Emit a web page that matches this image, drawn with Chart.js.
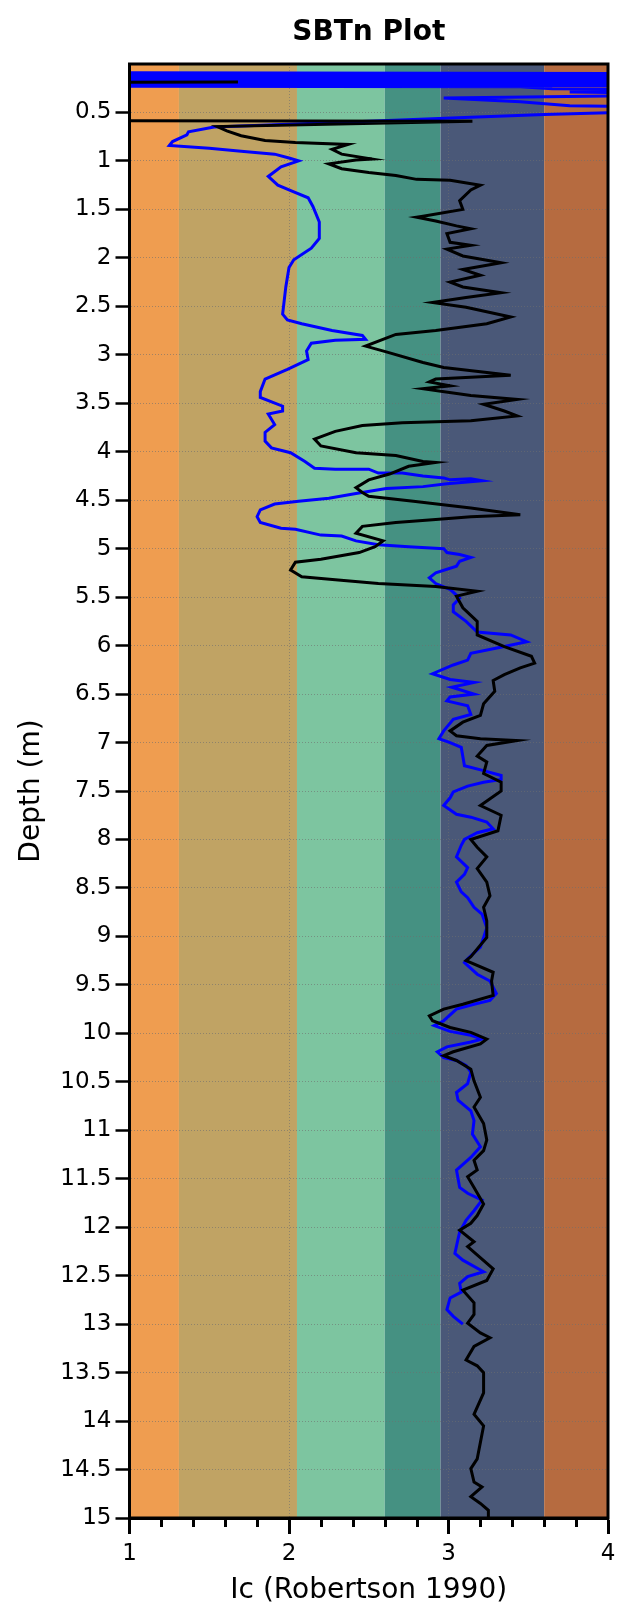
<!DOCTYPE html>
<html>
<head>
<meta charset="utf-8">
<title>SBTn Plot</title>
<script src="https://cdn.jsdelivr.net/npm/chart.js@4.4.1/dist/chart.umd.min.js"></script>
<style>
  html, body { margin: 0; padding: 0; background: #fff; }
  #wrap { width: 627px; height: 1624px; position: relative; }
</style>
</head>
<body>
<div id="wrap"><canvas id="sbtnChart"></canvas></div>
<script>
// SBTn zone limits on Ic and their fill colours
const zoneLimits = [1, 1.31, 2.05, 2.6, 2.95, 3.6, 4];
const zoneColors = ['#ef9d50', '#c0a364', '#7dc5a0', '#459182', '#4a5878', '#b66b40'];

// depth axis ticks (m) and Ic axis ticks
const depthTicks = [0.5, 1, 1.5, 2, 2.5, 3, 3.5, 4, 4.5, 5, 5.5, 6, 6.5, 7, 7.5, 8, 8.5, 9, 9.5, 10,
    10.5, 11, 11.5, 12, 12.5, 13, 13.5, 14, 14.5, 15];
const icTicks = [1, 2, 3, 4];

// black trace: depth (m) / Ic
const blackDepth = [0.185, 0.19, 0.585, 0.59, 0.645, 0.69, 0.74, 0.79, 0.81, 0.83, 0.88, 0.93, 0.98, 0.99,
    1.03, 1.08, 1.12, 1.15, 1.19, 1.2, 1.25, 1.3, 1.41, 1.5, 1.57, 1.58, 1.62, 1.67, 1.7, 1.75, 1.84, 1.87,
    1.91, 1.98, 2.05, 2.12, 2.18, 2.25, 2.3, 2.36, 2.41, 2.46, 2.51, 2.61, 2.68, 2.75, 2.79, 2.91, 2.97,
    3.08, 3.13, 3.21, 3.25, 3.28, 3.32, 3.35, 3.42, 3.46, 3.51, 3.58, 3.63, 3.68, 3.7, 3.73, 3.79, 3.87,
    3.94, 4.01, 4.04, 4.1, 4.11, 4.15, 4.23, 4.29, 4.37, 4.42, 4.46, 4.51, 4.58, 4.65, 4.67, 4.7, 4.73,
    4.77, 4.84, 4.92, 4.98, 5.04, 5.11, 5.14, 5.22, 5.29, 5.32, 5.36, 5.39, 5.44, 5.49, 5.61, 5.75, 5.89,
    6.01, 6.11, 6.18, 6.23, 6.3, 6.36, 6.47, 6.6, 6.72, 6.79, 6.88, 6.93, 6.96, 6.98, 7.03, 7.14, 7.2,
    7.32, 7.41, 7.5, 7.65, 7.75, 7.91, 8.0, 8.08, 8.18, 8.3, 8.44, 8.58, 8.7, 8.84, 9.01, 9.21, 9.25,
    9.37, 9.46, 9.61, 9.7, 9.75, 9.82, 9.87, 9.94, 9.99, 10.06, 10.11, 10.19, 10.23, 10.28, 10.37, 10.49,
    10.66, 10.76, 10.93, 11.1, 11.21, 11.31, 11.41, 11.48, 11.59, 11.76, 11.88, 11.96, 12.03, 12.15, 12.2,
    12.43, 12.55, 12.65, 12.78, 12.9, 12.99, 13.09, 13.14, 13.23, 13.37, 13.43, 13.5, 13.71, 13.93, 14.05,
    14.22, 14.39, 14.49, 14.63, 14.68, 14.78, 14.85, 14.92, 15.0];
const blackIc = [1.68, 0.5, 0.5, 3.15, 1.55, 1.61, 1.7, 1.85, 2.04, 2.37, 2.27, 2.33, 2.52, 2.42,
    2.25, 2.33, 2.5, 2.67, 2.8, 3.01, 3.2, 3.14, 3.07, 3.09, 2.84, 2.8, 2.92, 3.05, 3.14, 2.99, 3.01, 3.14,
    2.99, 3.09, 3.33, 3.09, 3.2, 3.01, 3.09, 3.33, 3.11, 2.9, 3.11, 3.39, 3.24, 2.92, 2.67, 2.48, 2.61,
    2.84, 2.97, 3.39, 2.92, 2.88, 3.01, 2.84, 3.14, 3.43, 3.22, 3.35, 3.43, 3.14, 2.71, 2.46, 2.29, 2.16,
    2.2, 2.42, 2.67, 2.84, 2.92, 2.75, 2.63, 2.5, 2.42, 2.46, 2.5, 2.78, 3.14, 3.45, 3.14, 2.92, 2.67,
    2.46, 2.42, 2.59, 2.54, 2.44, 2.2, 2.04, 2.01, 2.08, 2.29, 2.56, 2.92, 3.18, 3.05, 3.09, 3.18, 3.18,
    3.35, 3.52, 3.54, 3.45, 3.35, 3.28, 3.29, 3.22, 3.2, 3.09, 3.01, 3.05, 3.2, 3.43, 3.24, 3.18, 3.24,
    3.22, 3.33, 3.33, 3.2, 3.33, 3.31, 3.14, 3.18, 3.24, 3.18, 3.24, 3.26, 3.22, 3.24, 3.24, 3.14, 3.11,
    3.28, 3.27, 3.28, 3.09, 2.97, 2.88, 2.9, 3.01, 3.14, 3.24, 3.2, 3.03, 2.97, 3.05, 3.14, 3.16,
    3.2, 3.16, 3.22, 3.24, 3.22, 3.16, 3.18, 3.12, 3.16, 3.22, 3.18, 3.14, 3.07, 3.16, 3.12,
    3.28, 3.24, 3.09, 3.16, 3.16, 3.12, 3.2, 3.26, 3.16, 3.11, 3.18, 3.22, 3.22, 3.16, 3.22,
    3.2, 3.18, 3.14, 3.16, 3.21, 3.14, 3.2, 3.25, 3.25];

// blue trace: depth (m) / Ic
const blueDepth = [0.09, 0.1, 0.11, 0.12, 0.13, 0.14, 0.15, 0.16, 0.17, 0.18, 0.19, 0.2, 0.21, 0.22,
    0.228, 0.235, 0.255, 0.262, 0.29, 0.3, 0.32, 0.35, 0.39, 0.43, 0.45, 0.49, 0.5, 0.52, 0.55, 0.59,
    0.63, 0.65, 0.7, 0.73, 0.8, 0.84, 0.87, 0.9, 0.93, 0.97, 1.0, 1.06, 1.16, 1.25, 1.32, 1.38, 1.47,
    1.63, 1.8, 1.9, 2.02, 2.1, 2.3, 2.58, 2.64, 2.68, 2.75, 2.8, 2.84, 2.85, 2.88, 2.96, 3.05, 3.15,
    3.25, 3.38, 3.44, 3.53, 3.58, 3.61, 3.72, 3.8, 3.89, 3.96, 4.01, 4.1, 4.17, 4.18, 4.18, 4.22, 4.22,
    4.25, 4.27, 4.29, 4.28, 4.3, 4.33, 4.36, 4.38, 4.43, 4.48, 4.51, 4.54, 4.6, 4.67, 4.73, 4.79, 4.8,
    4.86, 4.87, 4.92, 4.96, 4.98, 5.0, 5.04, 5.06, 5.09, 5.13, 5.18, 5.25, 5.3, 5.36, 5.42, 5.51, 5.58,
    5.65, 5.75, 5.86, 5.89, 5.96, 6.01, 6.08, 6.15, 6.2, 6.29, 6.35, 6.38, 6.43, 6.5, 6.53, 6.57, 6.62,
    6.71, 6.76, 6.88, 6.96, 7.0, 7.05, 7.24, 7.29, 7.34, 7.38, 7.41, 7.45, 7.51, 7.57, 7.65, 7.74, 7.77,
    7.82, 7.89, 7.93, 8.0, 8.06, 8.18, 8.29, 8.36, 8.44, 8.54, 8.6, 8.7, 8.77, 8.91, 9.01, 9.11, 9.23,
    9.27, 9.39, 9.46, 9.59, 9.66, 9.7, 9.75, 9.87, 9.92, 9.98, 10.02, 10.06, 10.09, 10.14, 10.19, 10.25,
    10.28, 10.33, 10.4, 10.52, 10.61, 10.69, 10.8, 10.9, 11.04, 11.17, 11.28, 11.41, 11.59, 11.65,
    11.72, 11.83, 11.93, 12.05, 12.12, 12.27, 12.34, 12.46, 12.51, 12.58, 12.67, 12.73, 12.85, 12.92, 13.0];
const blueIc = [0.9, 4.5, 0.9, 4.5, 0.9, 4.5, 0.9, 4.5, 0.9, 4.5, 0.9, 4.5, 0.9, 4.5,
    0.9, 3.45, 3.65, 4.5, 3.76, 4.5, 4.5, 2.97, 3.45, 3.76, 4.5, 4.5, 4.05, 3.6, 3.14, 2.5,
    1.87, 1.53, 1.37, 1.36, 1.27, 1.25, 1.5, 1.7, 1.91, 2.0, 2.06, 1.95, 1.87, 1.93, 2.03, 2.12, 2.15,
    2.19, 2.19, 2.14, 2.03, 2.0, 1.98, 1.96, 1.99, 2.08, 2.27, 2.46, 2.48, 2.29, 2.14, 2.11, 2.12, 1.99,
    1.85, 1.82, 1.82, 1.96, 1.96, 1.87, 1.91, 1.85, 1.85, 1.89, 2.01, 2.1, 2.16, 2.29, 2.5, 2.56, 2.71,
    2.84, 2.97, 3.01, 3.14, 3.21, 2.99, 2.84, 2.61, 2.42, 2.25, 2.06, 1.91, 1.82, 1.8, 1.82, 1.95, 2.04,
    2.2, 2.33, 2.42, 2.56, 2.75, 2.97, 2.99, 3.07, 3.14, 3.07, 3.05, 2.92, 2.88, 2.92, 3.01, 3.07, 3.03,
    3.03, 3.11, 3.18, 3.39, 3.49, 3.35, 3.14, 3.12, 3.03, 2.9, 3.01, 3.16, 3.02, 3.16, 3.01, 2.99, 3.12,
    3.14, 3.03, 2.97, 2.94, 3.01, 3.08, 3.1, 3.22, 3.33, 3.33, 3.22, 3.12, 3.03, 3.01, 2.97, 3.05, 3.14,
    3.24, 3.28, 3.18, 3.1, 3.08, 3.05, 3.12, 3.1, 3.05, 3.08, 3.12, 3.16, 3.21, 3.24, 3.22, 3.2, 3.12,
    3.1, 3.18, 3.26, 3.3, 3.26, 3.16, 3.05, 2.97, 2.91, 3.01, 3.14, 3.21, 3.14, 2.99, 2.93, 2.97,
    3.05, 3.11, 3.14, 3.12, 3.05, 3.06, 3.14, 3.16, 3.15, 3.2, 3.14, 3.05, 3.07, 3.12,
    3.21, 3.16, 3.11, 3.07, 3.06, 3.04, 3.09, 3.22, 3.12, 3.07, 3.08, 3.01, 2.99, 3.03, 3.09];

function toPoints(depths, ics) {
    return depths.map((d, i) => ({ x: ics[i], y: d }));
}

function isWhole(v) {
    return Math.abs(v - Math.round(v)) < 1e-6;
}

const FONT = "'DejaVu Sans', Verdana, sans-serif";

// coloured SBTn zones behind everything
const zonePlugin = {
    id: 'zones',
    beforeDraw(chart) {
        const ctx = chart.ctx;
        const area = chart.chartArea;
        const xs = chart.scales.x;
        ctx.save();
        for (let i = 0; i < zoneColors.length; i++) {
            const x1 = xs.getPixelForValue(zoneLimits[i]);
            const x2 = xs.getPixelForValue(zoneLimits[i + 1]);
            ctx.fillStyle = zoneColors[i];
            ctx.fillRect(x1, area.top, x2 - x1, area.bottom - area.top);
        }
        ctx.restore();
    }
};

// frame, short minor ticks on Ic axis and the title
const framePlugin = {
    id: 'frame',
    afterDraw(chart) {
        const ctx = chart.ctx;
        const area = chart.chartArea;
        const xs = chart.scales.x;
        ctx.save();
        ctx.strokeStyle = '#000';
        ctx.lineWidth = 3;
        ctx.strokeRect(area.left, area.top, area.right - area.left, area.bottom - area.top);

        ctx.lineWidth = 3;
        xs.ticks.forEach(t => {
            if (isWhole(t.value)) return;
            const px = Math.round(xs.getPixelForValue(t.value)) + 0.5;
            ctx.beginPath();
            ctx.moveTo(px, area.bottom);
            ctx.lineTo(px, area.bottom + 9);
            ctx.stroke();
        });

        ctx.fillStyle = '#000';
        ctx.font = 'bold 28px ' + FONT;
        ctx.textAlign = 'center';
        ctx.textBaseline = 'middle';
        ctx.fillText('SBTn Plot', (area.left + area.right) / 2, 33);
        ctx.restore();
    }
};

const ctx = document.getElementById('sbtnChart').getContext('2d');

new Chart(ctx, {
    type: 'scatter',
    data: {
        datasets: [{
            label: 'Ic',
            data: toPoints(blackDepth, blackIc),
            showLine: true,
            borderColor: '#000000',
            borderWidth: 3,
            pointRadius: 0,
            tension: 0,
            order: 0
        }, {
            label: 'Ic SBTn',
            data: toPoints(blueDepth, blueIc),
            showLine: true,
            borderColor: '#0000ff',
            borderWidth: 3,
            pointRadius: 0,
            tension: 0,
            order: 1
        }]
    },
    options: {
        responsive: true,
        maintainAspectRatio: false,
        animation: false,
        layout: {
            padding: { top: 64, right: 19, bottom: 0, left: 0 }
        },
        plugins: {
            legend: { display: false },
            tooltip: { enabled: false }
        },
        scales: {
            x: {
                type: 'linear',
                position: 'bottom',
                min: icTicks[0],
                max: icTicks[icTicks.length - 1],
                afterFit: function(scale) { scale.height = 106; },
                border: { display: true, color: '#000', width: 3, dash: [1, 2] },
                grid: {
                    color: c => (c.tick && (c.tick.value === 2 || c.tick.value === 3)) ? 'rgba(110,110,110,0.6)' : 'rgba(0,0,0,0)',
                    lineWidth: 1,
                    tickLength: 16,
                    tickWidth: 3,
                    tickColor: c => (c.tick && isWhole(c.tick.value)) ? '#000' : 'rgba(0,0,0,0)'
                },
                ticks: {
                    stepSize: 0.2,
                    autoSkip: false,
                    maxRotation: 0,
                    padding: 6,
                    color: '#000',
                    font: { family: FONT, size: 23 },
                    callback: function(value) {
                        return icTicks.some(t => Math.abs(t - value) < 1e-6) ? String(Math.round(value)) : '';
                    }
                },
                title: {
                    display: true,
                    text: 'Ic (Robertson 1990)',
                    color: '#000',
                    font: { family: FONT, size: 28 },
                    padding: { top: 0, bottom: 16 }
                }
            },
            y: {
                type: 'linear',
                reverse: true,
                min: 0,
                max: depthTicks[depthTicks.length - 1],
                afterFit: function(scale) { scale.width = 129.5; },
                border: { display: true, color: '#000', width: 3, dash: [1, 2] },
                grid: {
                    color: c => (c.tick && c.tick.value > 0 && c.tick.value < 15) ? 'rgba(110,110,110,0.6)' : 'rgba(0,0,0,0)',
                    lineWidth: 1,
                    tickLength: 14,
                    tickWidth: 2.5,
                    tickColor: c => (c.tick && c.tick.value > 0) ? '#000' : 'rgba(0,0,0,0)'
                },
                ticks: {
                    stepSize: 0.5,
                    autoSkip: false,
                    padding: 4,
                    color: '#000',
                    font: { family: FONT, size: 23 },
                    callback: function(value) {
                        return depthTicks.includes(value) ? String(value) : '';
                    }
                },
                title: {
                    display: true,
                    text: 'Depth (m)',
                    color: '#000',
                    font: { family: FONT, size: 28 },
                    padding: { top: 15, bottom: 0 }
                }
            }
        }
    },
    plugins: [zonePlugin, framePlugin]
});
</script>
</body>
</html>
